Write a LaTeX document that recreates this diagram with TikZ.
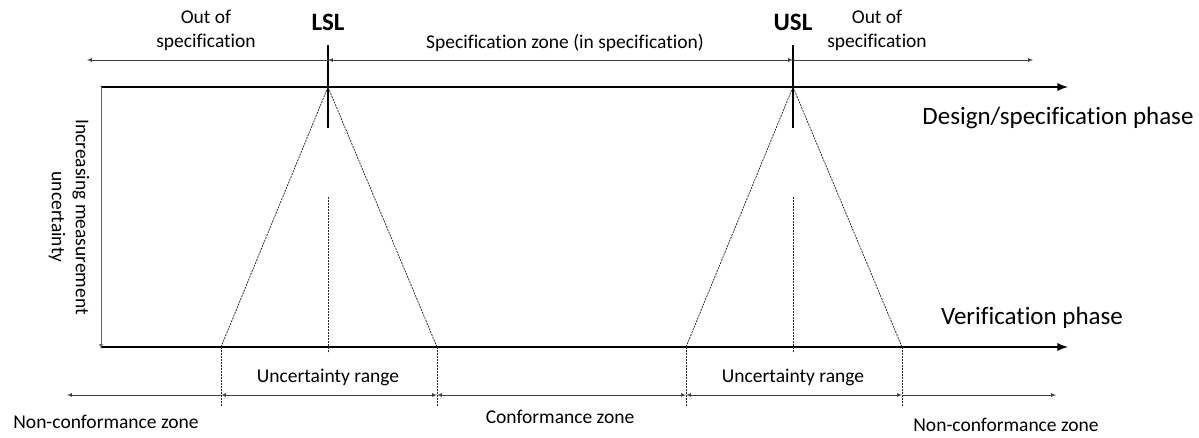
\documentclass[tikz,border=0pt]{standalone}
\usepackage{fontspec}
\setmainfont[Ligatures=NoCommon]{Carlito}
\begin{document}
\begin{tikzpicture}[x=1pt,y=-1pt,
  axis/.style={line width=2.6pt,-latex},
  limit/.style={line width=2.6pt},
  zone/.style={line width=0.7pt,black!75,latex-latex},
  dotline/.style={line width=0.75pt,black!85,dash pattern=on 2pt off 1pt},
  small/.style={font=\fontsize{19.5}{24}\selectfont,align=center},
  big/.style={font=\fontsize{25}{30}\selectfont}]
\useasboundingbox (0,0) rectangle (1199,437);
\pgfmathsetmacro{\lsl}{328}
\pgfmathsetmacro{\usl}{793}
%
\coordinate (tl) at (101,87);
\coordinate (tr) at (1068,87);
\coordinate (bl) at (101,347);
\coordinate (br) at (1068,347);
\coordinate (lt) at (\lsl,87);
\coordinate (ut) at (\usl,87);
\coordinate (la) at (221,347);
\coordinate (lb) at (437,347);
\coordinate (ua) at (686,347);
\coordinate (ub) at (902,347);
%
\draw[axis](tl)--(tr);
\draw[axis](bl)--(br);
\draw[line width=0.7pt,black!60,-latex](tl)--([yshift=-2pt]bl);
\draw[limit](\lsl,45)coordinate(l1)--(\lsl,128)coordinate(l2);
\draw[limit](\usl,45)coordinate(u1)--(\usl,128)coordinate(u2);
%
\draw[dotline](la)--(lt)--(lb);
\draw[dotline](ua)--(ut)--(ub);
\draw[dotline](\lsl,197)coordinate(lc)--(\lsl,353);
\draw[dotline](\usl,197)coordinate(uc)--(\usl,353);
\foreach \c in {la,lb,ua,ub}
  \draw[dotline](\c)--([yshift=-60pt]\c);
%
\draw[zone,latex-](87,60)coordinate(t0)--(\lsl,60)coordinate(t1);
\draw[zone](t1)--(\usl,60)coordinate(t2);
\draw[zone,-latex](t2)--(1033,60)coordinate(t3);
\draw[zone,latex-](67,395)coordinate(b0)--(221,395)coordinate(b1);
\draw[zone](b1)--(437,395)coordinate(b2);
\draw[zone](b2)--(686,395)coordinate(b3);
\draw[zone](b3)--(902,395)coordinate(b4);
\draw[zone,-latex](b4)--(1056,395)coordinate(b5);
%
\node[small](oosl)at(206,30){Out of\\specification};
\node[big,font=\fontsize{25}{30}\selectfont\bfseries](lsl)at(\lsl,22){LSL};
\node[small](spec)at(565,43){Specification zone (in specification)};
\node[big,font=\fontsize{25}{30}\selectfont\bfseries](usl)at(\usl,22){USL};
\node[small](oosr)at(877,30){Out of\\specification};
\node[big](design)at(1058,118){Design/specification phase};
\node[big](verif)at(1032,318){Verification phase};
\node[small,rotate=-90](incr)at(69,217){Increasing measurement\\uncertainty};
\node[small](url)at(\lsl,377){Uncertainty range};
\node[small](uru)at(\usl,377){Uncertainty range};
\node[small](conf)at(560,417){Conformance zone};
\node[small](ncl)at(106,422){Non-conformance zone};
\node[small](ncr)at(1006,425){Non-conformance zone};
\end{tikzpicture}
\end{document}
